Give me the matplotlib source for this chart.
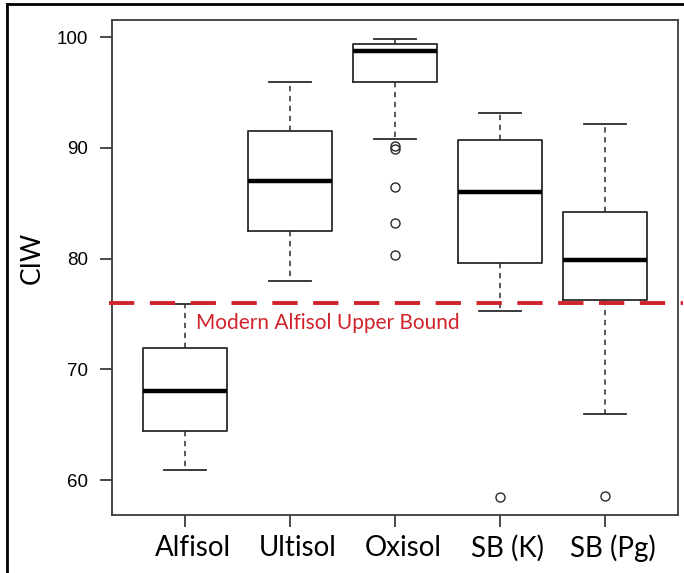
import matplotlib.pyplot as plt
import matplotlib.transforms as mtransforms
from matplotlib.lines import Line2D

# soil groups and box stats (CIW)
groups = ["Alfisol", "Ultisol", "Oxisol", "SB (K)", "SB (Pg)"]
whisker_lo = [60.9, 78.0, 90.8, 75.3, 66.0]
q1 = [64.45, 82.5, 95.95, 79.6, 76.25]
median = [68.0, 87.0, 98.75, 86.0, 79.85]
q3 = [71.9, 91.5, 99.4, 90.7, 84.2]
whisker_hi = [75.9, 96.0, 99.85, 93.15, 92.2]
outliers = [[], [], [90.2, 89.9, 86.5, 83.25, 80.3], [58.5], [58.6]]

upper_bound = 75.95
bound_label = "Modern Alfisol Upper Bound"

W, H = 684, 573
fig = plt.figure(figsize=(W / 100, H / 100), dpi=100)
ax = fig.add_axes([112 / W, 1 - 515 / H, (678 - 112) / W, (515 - 20) / H])

stats = []
for i, g in enumerate(groups):
    stats.append({"label": g, "whislo": whisker_lo[i], "q1": q1[i], "med": median[i],
                  "q3": q3[i], "whishi": whisker_hi[i], "fliers": outliers[i]})

pos = list(range(1, len(groups) + 1))
edge = "#2b2b2b"
ax.bxp(stats, positions=pos, widths=0.8, capwidths=0.4,
       boxprops=dict(color=edge, linewidth=1.3),
       medianprops=dict(color="black", linewidth=3.2, solid_capstyle="butt"),
       whiskerprops=dict(color=edge, linewidth=1.1, linestyle=(0, (3.5, 3))),
       capprops=dict(color=edge, linewidth=1.3),
       flierprops=dict(marker="o", markersize=6.5, markerfacecolor="none",
                       markeredgecolor=edge, markeredgewidth=1.0))

ax.set_xlim(0.3, 5.7)
ax.set_ylim(56.84, 101.56)
ax.set_yticks([60, 70, 80, 90, 100])
ax.set_xticks(pos)
ax.set_xticklabels([])
# group names sit a little right of their ticks in the original
xlab_tr = ax.get_xaxis_transform() + mtransforms.ScaledTranslation(
    8 / 100, -33 / 100, fig.dpi_scale_trans)
for p, g in zip(pos, groups):
    ax.text(p, 0, g, transform=xlab_tr, family="Lato", fontsize=20,
            ha="center", va="center")
for lab in ax.get_yticklabels():
    lab.set_family("Liberation Sans")
    lab.set_fontsize(13.5)
ax.tick_params(axis="both", length=8.5, width=1.2, color=edge)
ax.tick_params(axis="y", pad=9)
for s in ax.spines.values():
    s.set_color("#3a3a3a")
    s.set_linewidth(1.3)

ax.set_ylabel("CIW", family="Lato", fontsize=19)
ax.yaxis.set_label_coords(-0.118, 0.52)

# dashed red line drawn across (and a bit past) the plot box
red = "#d0232b"
ax.plot([0.27, 5.75], [upper_bound, upper_bound], color=red, linewidth=2.8,
        linestyle=(0, (6.5, 4)), clip_on=False, zorder=5)
ax.text(1.1, upper_bound - 1.8, bound_label, color=red, family="Lato",
        fontsize=15, va="center", ha="left")

# screenshot frame (left and top edges)
fig.add_artist(Line2D([7 / W, 7 / W], [0, 1 - 4 / H], color="black", linewidth=2))
fig.add_artist(Line2D([7 / W, 1], [1 - 4 / H, 1 - 4 / H], color="black", linewidth=2))

fig.savefig("out.png", dpi=100)
